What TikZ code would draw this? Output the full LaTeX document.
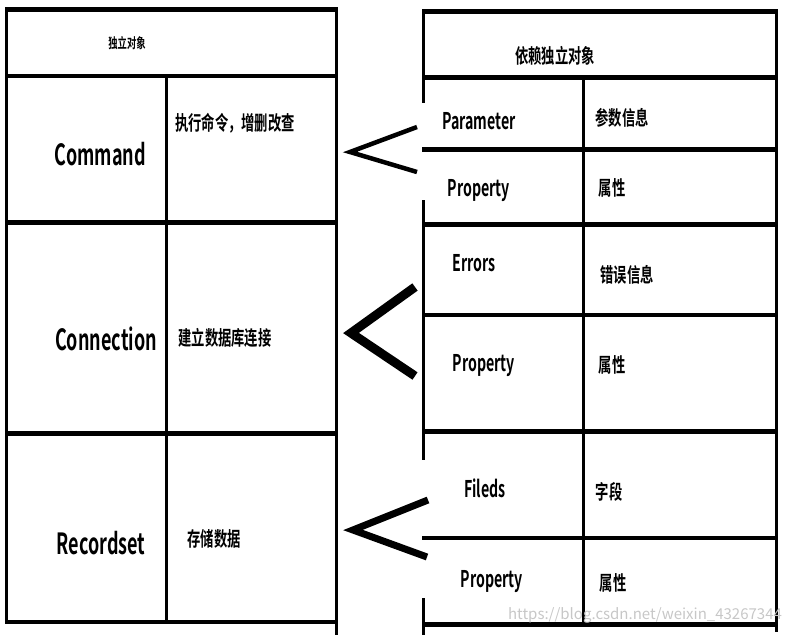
\documentclass[tikz,border=0pt]{standalone}
\usepackage{fontspec}
\setmainfont{Noto Sans CJK SC}[BoldFont={Noto Sans CJK SC Bold}]
\usepackage{graphicx}
\newcommand\tall[1]{\scalebox{1}[1.5]{#1}}
\newcommand\taller[1]{\scalebox{1}[1.62]{#1}}

\begin{document}
\begin{tikzpicture}[x=1pt, y=-1pt,
    hline/.style={line width=4.5pt},
    vline/.style={line width=3pt},
    chev/.style={line join=miter, miter limit=20},
    obj/.style={inner sep=0pt, font=\fontsize{18}{19}\selectfont\bfseries},
    sub/.style={inner sep=0pt, font=\fontsize{14.2}{15}\selectfont\bfseries},
    zh/.style={inner sep=0pt, font=\fontsize{13.3}{14}\selectfont\bfseries},
    zhs/.style={inner sep=0pt, font=\fontsize{9.3}{10}\selectfont\bfseries},
    wm/.style={inner sep=0pt, font=\fontsize{15}{15}\selectfont, text=black!22}]
  \useasboundingbox (0,0) rectangle (790,635);
  % left table: independent objects
  \draw[vline] (6.5,7.5) -- (6.5,624);
  \draw[vline] (166.5,76) -- (166.5,622);
  \draw[vline] (336,7.5) -- (336,635);
  \foreach \y in {9.5,76,222.5,433.5,622}
    \draw[hline] (5,\y) -- (337.5,\y);
  % right table: dependent objects
  \draw[vline] (423.5,9.5) -- (423.5,103);
  \draw[vline] (423.5,200) -- (423.5,460);
  \draw[vline] (423.5,598) -- (423.5,635);
  \draw[vline] (583.5,77.5) -- (583.5,626);
  \draw[vline] (776.5,9.5) -- (776.5,632);
  \foreach \y in {11.5,77.5,149.5,224.5,315,431.5,538,624.5}
    \draw[hline] (422,\y) -- (778,\y);
  \node[zhs] (lhead) at (127,43) {\tall{独立对象}};
  \node[obj] (cmd) at (100,154) {\taller{Command}};
  \node[zh] (cmdd) at (235,123) {\tall{执行命令，增删改查}};
  \node[obj] (conn) at (106,339) {\taller{Connection}};
  \node[zh] (connd) at (225,338) {\tall{建立数据库连接}};
  \node[obj] (rs) at (101,543) {\taller{Recordset}};
  \node[zh] (rsd) at (214,539) {\tall{存储数据}};
  \node[zh] (rhead) at (555,56) {\tall{依赖独立对象}};
  \node[sub] (par) at (479,121) {\taller{Parameter}};
  \node[zh] (pard) at (622,118) {\tall{参数信息}};
  \node[sub] (prop1) at (479,191) {\taller{Property}};
  \node[zh] (prop1d) at (612,188) {\tall{属性}};
  \node[sub] (err) at (474,263) {\taller{Errors}};
  \node[zh] (errd) at (627,275) {\tall{错误信息}};
  \node[sub] (prop2) at (484,366) {\taller{Property}};
  \node[zh] (prop2d) at (612,365) {\tall{属性}};
  \node[sub] (fld) at (485,488) {\taller{Fileds}};
  \node[zh] (fldd) at (609,492) {\tall{字段}};
  \node[sub] (prop3) at (492,582) {\taller{Property}};
  \node[zh] (prop3d) at (613,583) {\tall{属性}};
  % chevrons between the tables
  \coordinate (c1a) at (417,127);
  \coordinate (c1t) at (350,152);
  \coordinate (c1b) at (417,172);
  \coordinate (c2a) at (415,287);
  \coordinate (c2t) at (351,333);
  \coordinate (c2b) at (415,376);
  \coordinate (c3a) at (428,500);
  \coordinate (c3t) at (353,530);
  \coordinate (c3b) at (427,557);
  \draw[chev, line width=4.5pt] (c1a) -- (c1t) -- (c1b);
  \draw[chev, line width=9pt] (c2a) -- (c2t) -- (c2b);
  \draw[chev, line width=7pt] (c3a) -- (c3t) -- (c3b);
  \node[wm] (mark) at (645,615) {https://blog.csdn.net/weixin\_43267344};
\end{tikzpicture}
\end{document}
